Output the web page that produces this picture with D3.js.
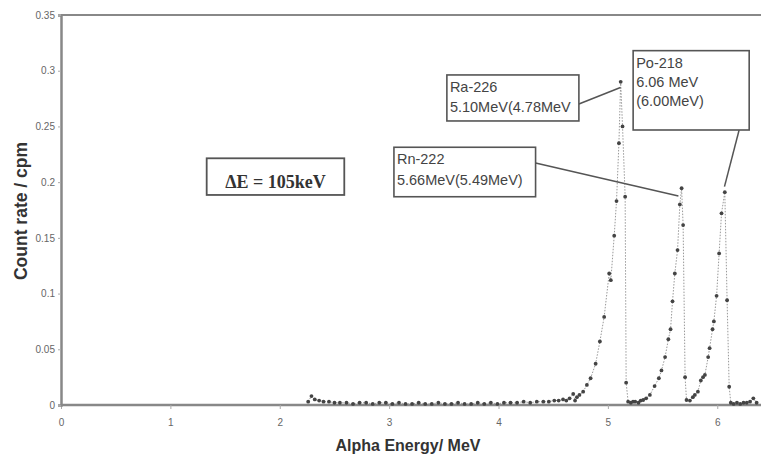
<!DOCTYPE html>
<html><head><meta charset="utf-8">
<script src="https://cdn.jsdelivr.net/npm/d3@7"></script>
<style>body{margin:0;background:#fff}svg{display:block}</style>
</head><body>
<svg id="c" width="761" height="456"></svg>
<script>
// ---- data ----
const energy = [2.26,2.29,2.32,2.36,2.40,2.45,2.50,2.55,2.61,2.67,2.73,2.79,2.85,2.91,2.97,3.03,3.09,3.15,3.21,3.27,3.33,3.39,3.45,3.51,3.57,3.63,3.69,3.75,3.81,3.87,3.93,3.99,4.05,4.11,4.17,4.23,4.29,4.35,4.41,4.46,4.51,4.55,4.59,4.62,4.65,
 4.683,4.70,4.717,4.74,4.774,4.808,4.842,4.888,4.927,4.966,5.012,5.027,5.058,5.079,5.101,5.117,5.134,5.158,5.167,5.185,5.21,5.23,5.25,5.28,5.30,5.323,5.35,5.384,5.427,5.466,5.49,5.523,5.553,5.573,5.591,5.612,5.637,5.658,5.674,5.688,5.706,5.719,5.75,5.777,5.795,5.823,5.85,5.87,5.887,5.917,5.93,5.957,5.969,5.994,6.017,6.039,6.069,6.09,6.109,6.124,6.15,6.18,6.21,6.24,6.27,6.30,6.33,6.36];
const counts = [0.003,0.008,0.005,0.004,0.003,0.003,0.002,0.002,0.002,0.001,0.002,0.002,0.001,0.002,0.002,0.001,0.002,0.001,0.001,0.002,0.001,0.001,0.002,0.001,0.001,0.002,0.001,0.001,0.002,0.001,0.002,0.001,0.002,0.002,0.002,0.003,0.002,0.003,0.003,0.003,0.004,0.004,0.005,0.004,0.006,
 0.0099,0.004,0.007,0.009,0.012,0.018,0.024,0.037,0.057,0.079,0.118,0.112,0.152,0.183,0.235,0.290,0.250,0.187,0.020,0.003,0.002,0.003,0.003,0.002,0.004,0.0045,0.006,0.009,0.017,0.024,0.031,0.043,0.059,0.068,0.093,0.118,0.139,0.180,0.1945,0.1615,0.025,0.0045,0.004,0.007,0.009,0.012,0.022,0.025,0.027,0.043,0.051,0.068,0.075,0.098,0.136,0.172,0.191,0.094,0.0164,0.002,0.001,0.002,0.001,0.002,0.002,0.003,0.006,0.002];
const xTicks = [0,1,2,3,4,5,6];
const yTicks = [0,0.05,0.1,0.15,0.2,0.25,0.3,0.35];
const yTickLabels = ["0","0.05","0.1","0.15","0.2","0.25","0.3","0.35"];
const labelLines = [["Ra-226","5.10MeV(4.78MeV"],["Rn-222","5.66MeV(5.49MeV)"],["Po-218","6.06 MeV","(6.00MeV)"]];
// annotation boxes in data units: [x0, yTop, x1, yBottom]
const labelBoxes = [[3.528,0.2962,4.735,0.2549],[3.044,0.2313,4.339,0.1869],[5.231,0.318,6.292,0.2468]];
// leader lines in data units: [xFrom, yFrom, xTo, yTo]
const leaders = [[4.735,0.2701,5.115,0.285],[4.339,0.2172,5.645,0.1876],[6.2,0.2468,6.066,0.196]];
const deltaBox = [1.332,0.2214,2.59,0.1885];
const deltaText = "ΔE = 105keV";

// ---- chart ----
const svg = d3.select("#c");
const x = d3.scaleLinear().domain([0,6.4]).range([61,761]);
const y = d3.scaleLinear().domain([0,0.35]).range([405,15]);

// frame
svg.append("line").attr("x1",x(0)).attr("x2",761).attr("y1",y(0.35)).attr("y2",y(0.35)).attr("stroke","#888").attr("stroke-width",2);

const gx = svg.append("g").attr("transform",`translate(0,${y(0)})`)
  .call(d3.axisBottom(x).tickValues(xTicks).tickFormat(d3.format("d")).tickSize(4).tickPadding(10));
const gy = svg.append("g").attr("transform",`translate(${x(0)},0)`)
  .call(d3.axisLeft(y).tickValues(yTicks).tickFormat((d,i)=>yTickLabels[i]).tickSize(3).tickPadding(3));
[gx,gy].forEach(g=>{
  g.select(".domain").attr("stroke","#888").attr("stroke-width",2.5);
  g.selectAll(".tick line").attr("stroke","#aaa");
  g.selectAll(".tick text").attr("fill","#666").attr("font-family","Liberation Sans, Arial, sans-serif").attr("font-size",10);
});
gx.select(".domain").attr("d",`M${x(0)},0H761`);

// axis titles
svg.append("text").attr("x",408).attr("y",451).attr("text-anchor","middle")
  .attr("font-family","Liberation Sans, Arial, sans-serif").attr("font-weight","bold").attr("font-size",16).attr("fill","#333")
  .text("Alpha Energy/ MeV");
svg.append("text").attr("transform","translate(27,211) rotate(-90)").attr("text-anchor","middle")
  .attr("font-family","Liberation Sans, Arial, sans-serif").attr("font-weight","bold").attr("font-size",17.5).attr("fill","#333")
  .text("Count rate / cpm");

// series
const pts = energy.map((e,i)=>[e,counts[i]]);
svg.append("path").datum(pts).attr("fill","none").attr("stroke","#999").attr("stroke-width",1)
  .attr("stroke-dasharray","1.5,1.5")
  .attr("d",d3.line().x(d=>x(d[0])).y(d=>y(d[1])));
svg.append("g").selectAll("circle").data(pts).join("circle")
  .attr("cx",d=>x(d[0])).attr("cy",d=>y(d[1])).attr("r",1.9).attr("fill","#444");

// leader lines
svg.append("g").selectAll("line").data(leaders).join("line")
  .attr("x1",d=>x(d[0])).attr("y1",d=>y(d[1])).attr("x2",d=>x(d[2])).attr("y2",d=>y(d[3]))
  .attr("stroke","#555").attr("stroke-width",1.5);

// label boxes
const lb = svg.append("g").selectAll("g").data(labelBoxes).join("g");
lb.append("rect").attr("x",d=>x(d[0])).attr("y",d=>y(d[1])).attr("width",d=>x(d[2])-x(d[0])).attr("height",d=>y(d[3])-y(d[1]))
  .attr("fill","#fff").attr("stroke","#555").attr("stroke-width",1.6);
lb.each(function(d,i){
  const g = d3.select(this);
  labelLines[i].forEach((t,j)=>{
    g.append("text").attr("x",x(d[0])+3).attr("y",y(d[1])+17+j*(i===2?19:20.5))
      .attr("font-family","Liberation Sans, Arial, sans-serif").attr("font-size",14.5).attr("fill","#444")
      .text(t);
  });
});

// delta E box
svg.append("rect").attr("x",x(deltaBox[0])).attr("y",y(deltaBox[1])).attr("width",x(deltaBox[2])-x(deltaBox[0])).attr("height",y(deltaBox[3])-y(deltaBox[1]))
  .attr("fill","#fff").attr("stroke","#555").attr("stroke-width",1.8);
svg.append("text").attr("x",(x(deltaBox[0])+x(deltaBox[2]))/2).attr("y",y(deltaBox[3])-7)
  .attr("text-anchor","middle").attr("font-family","Liberation Serif, Times New Roman, serif").attr("font-weight","bold")
  .attr("font-size",18).attr("fill","#333").text(deltaText);
</script>
</body></html>
